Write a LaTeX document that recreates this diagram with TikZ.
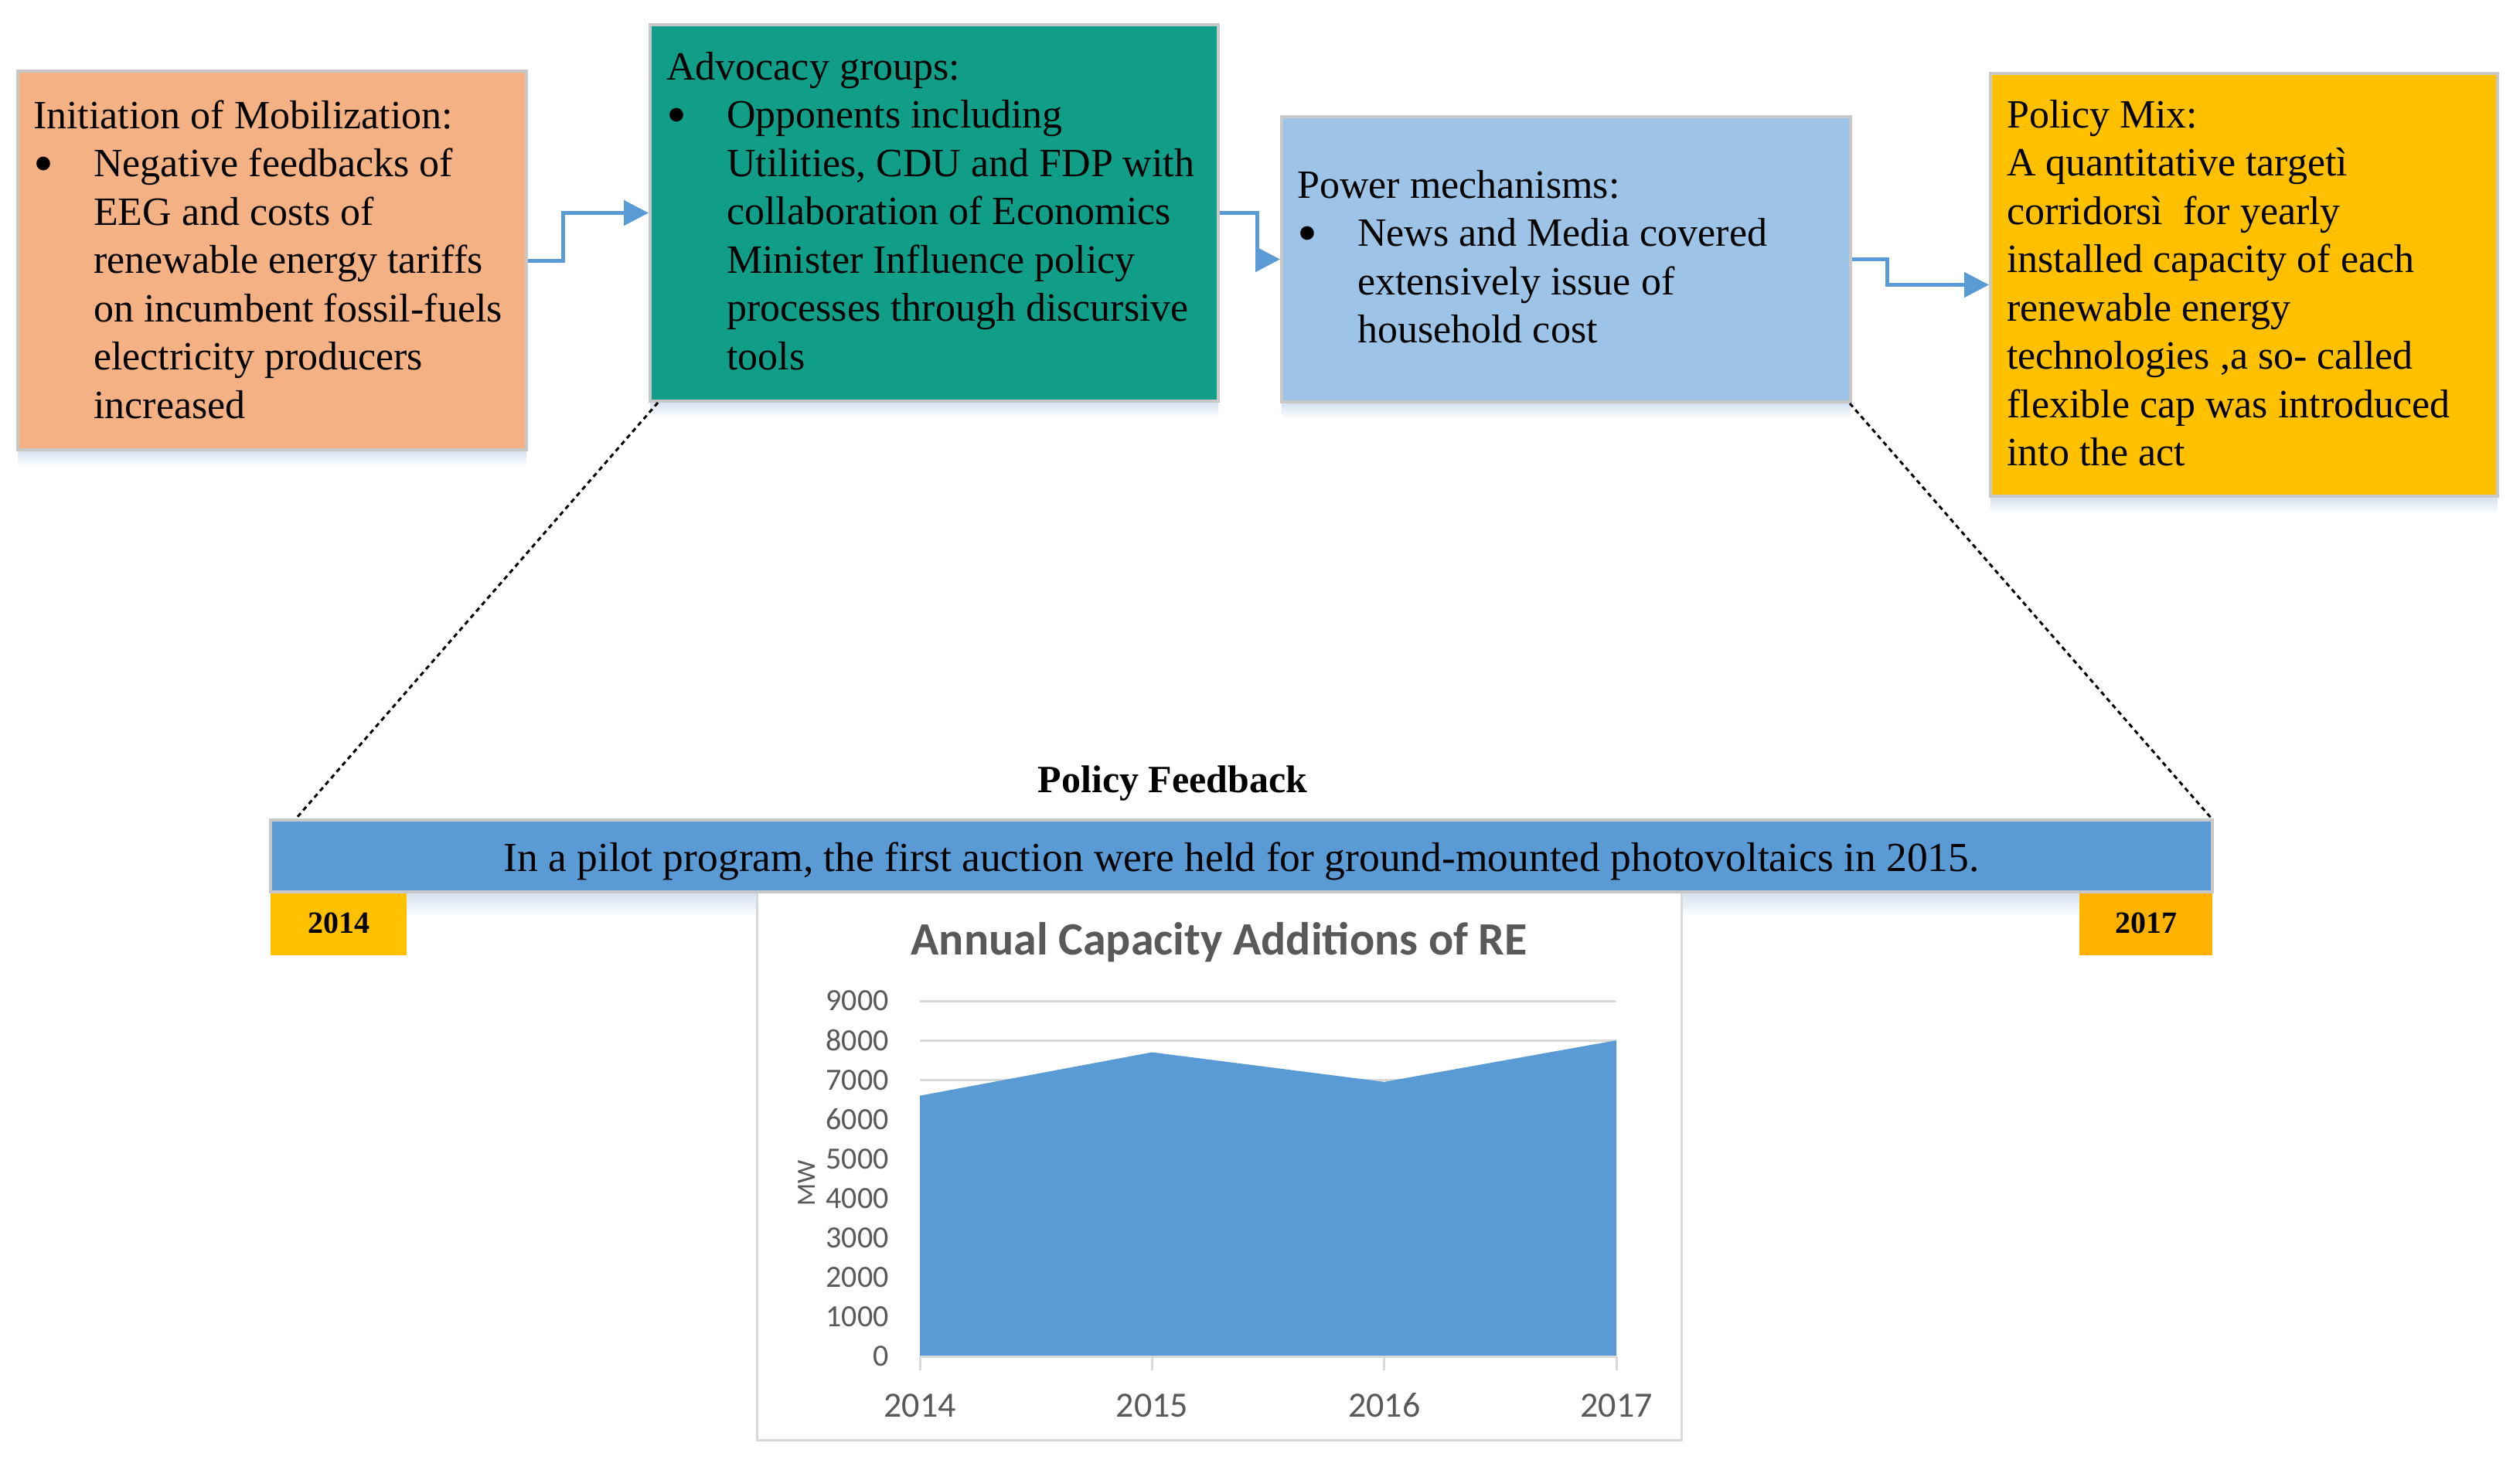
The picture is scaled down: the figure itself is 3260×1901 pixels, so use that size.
\documentclass[tikz,border=0pt]{standalone}
\usepackage{fontspec}
\setmainfont{Liberation Serif}
\newfontfamily\chartfont{Carlito}
\usetikzlibrary{arrows.meta}
\definecolor{orangebox}{HTML}{F4B183}
\definecolor{tealbox}{HTML}{109E89}
\definecolor{bluebox}{HTML}{9DC3E6}
\definecolor{goldbox}{HTML}{FFC000}
\definecolor{goldtwo}{HTML}{FFB300}
\definecolor{barblue}{HTML}{5B9BD5}
\definecolor{edgegray}{HTML}{C8C8C8}
\definecolor{chartgray}{HTML}{595959}
\definecolor{gridgray}{HTML}{D9D9D9}
\definecolor{shadowc}{HTML}{D5E2F0}
\newcommand\bulx{\makebox[78pt][l]{\raisebox{-8pt}{\fontsize{74}{0}\selectfont\textbullet}}}
\newcommand\indx{\hspace*{78pt}}
\newcommand\boxfont{\fontsize{52}{62.5}\selectfont}
\begin{document}
\begin{tikzpicture}[x=1pt,y=-1pt,
  boxstyle/.style={draw=edgegray, line width=4pt, inner sep=0pt},
  txt/.style={anchor=base west, inner sep=0pt},
  flow/.style={draw=barblue, line width=5pt, -{Triangle[length=32pt,width=32pt]}},
  dotline/.style={draw=black, line width=3pt, dash pattern=on 6pt off 5pt},
  grid/.style={draw=gridgray, line width=3pt},
  ylab/.style={anchor=east, inner sep=0pt, text=chartgray, font=\chartfont\fontsize{40}{48}\selectfont},
  xlab/.style={anchor=base, inner sep=0pt, text=chartgray, font=\chartfont\fontsize{46}{54}\selectfont},
  yearbox/.style={inner sep=0pt, font=\bfseries\fontsize{40}{48}\selectfont}
]
\useasboundingbox (0,0) rectangle (3260,1901);
% shadows
\shade[top color=shadowc, bottom color=white] (23,584) rectangle (681,604);
\shade[top color=shadowc, bottom color=white] (841,521) rectangle (1576,541);
\shade[top color=shadowc, bottom color=white] (1658,522) rectangle (2394,542);
\shade[top color=shadowc, bottom color=white] (2575,644) rectangle (3231,664);
\shade[top color=shadowc, bottom color=white] (350,1156) rectangle (2862,1186);

% boxes
\node[boxstyle, fill=orangebox, minimum width=658, minimum height=490] (box1) at (352,337) {};
\node[boxstyle, fill=tealbox, minimum width=735, minimum height=487] (box2) at (1208.5,275.5) {};
\node[boxstyle, fill=bluebox, minimum width=736, minimum height=369] (box3) at (2026,335.5) {};
\node[boxstyle, fill=goldbox, minimum width=656, minimum height=547] (box4) at (2903,368.5) {};

\node[txt] (t1) at (43,166) {\parbox[t]{630pt}{\boxfont
Initiation of Mobilization:\\
\bulx Negative feedbacks of\\
\indx EEG and costs of\\
\indx renewable energy tariffs\\
\indx on incumbent fossil-fuels\\
\indx electricity producers\\
\indx increased}};
\node[txt] (t2) at (862,103) {\parbox[t]{710pt}{\boxfont
Advocacy groups:\\
\bulx Opponents including\\
\indx Utilities, CDU and FDP with\\
\indx collaboration of Economics\\
\indx Minister Influence policy\\
\indx processes through discursive\\
\indx tools}};
\node[txt] (t3) at (1678,256) {\parbox[t]{710pt}{\boxfont
Power mechanisms:\\
\bulx News and Media covered\\
\indx extensively issue of\\
\indx household cost}};
\node[txt] (t4) at (2596,165) {\parbox[t]{630pt}{\boxfont
Policy Mix:\\
A quantitative targetì\\
corridorsì\ \ for yearly\\
installed capacity of each\\
renewable energy\\
technologies ,a so- called\\
flexible cap was introduced\\
into the act}};

% arrows
\draw[flow] (box1.east) -- ++(45,0) |- (box2.west);
\draw[flow] (box2.east) -- ++(48,0) |- (box3.west);
\draw[flow] (box3.east) -- ++(45,0) |- (box4.west);

% chart frame
\node[draw=gridgray, line width=3pt, fill=white, minimum width=1196, minimum height=709, inner sep=0pt] (chart) at (1577,1508.5) {};
% bar
\node[boxstyle, fill=barblue, minimum width=2512, minimum height=93] (bar) at (1606,1107.5) {};
\node[anchor=base, inner sep=0pt, font=\fontsize{53.5}{62}\selectfont] (bartext) at (1606,1127) {In a pilot program, the first auction were held for ground-mounted photovoltaics in 2015.};
\node[anchor=base, inner sep=0pt, font=\bfseries\fontsize{50}{60}\selectfont] (pf) at (1517,1025) {Policy Feedback};
\node[yearbox, fill=goldbox, minimum width=176, minimum height=80] (y14) at (438,1196) {};
\node[anchor=base, inner sep=0pt, font=\bfseries\fontsize{40}{48}\selectfont] (y14t) at (438,1207) {2014};
\node[yearbox, fill=goldtwo, minimum width=172, minimum height=80] (y17) at (2776,1196) {};
\node[anchor=base, inner sep=0pt, font=\bfseries\fontsize{40}{48}\selectfont] (y17t) at (2776,1207) {2017};

% dotted connectors
\draw[dotline] ([xshift=12pt]box2.south west) -- ([xshift=35pt]bar.north west);
\draw[dotline] ([xshift=-3pt]box3.south east) -- ([xshift=-3pt]bar.north east);

% chart
\node[anchor=base, inner sep=0pt, text=chartgray, font=\chartfont\bfseries\fontsize{60}{70}\selectfont] (ctitle) at (1577,1235) {Annual Capacity Additions of RE};
\foreach \k in {0,...,9} {
  \draw[grid] (1190,{1755-\k*51.11}) -- (2091,{1755-\k*51.11});
  \pgfmathtruncatemacro{\val}{\k*1000}
  \node[ylab] (yl\k) at (1150,{1755-\k*51.11}) {\val};
}
\fill[barblue] (1190,1755) -- (1190,1417.7) -- (1490.3,1361.5) -- (1790.7,1399.8) -- (2091,1346.1) -- (2091,1755) -- cycle;
\draw[grid] (1190,1755) -- (2091,1755);
\foreach \i/\yr in {0/2014,1/2015,2/2016,3/2017} {
  \draw[grid] ({1190+\i*300.33},1755) -- ({1190+\i*300.33},1773);
  \node[xlab] (xl\yr) at ({1190+\i*300.33},1833) {\yr};
}
\node[rotate=90, inner sep=0pt, text=chartgray, font=\chartfont\fontsize{34}{40}\selectfont] (mw) at (1044,1531) {MW};
\end{tikzpicture}
\end{document}
